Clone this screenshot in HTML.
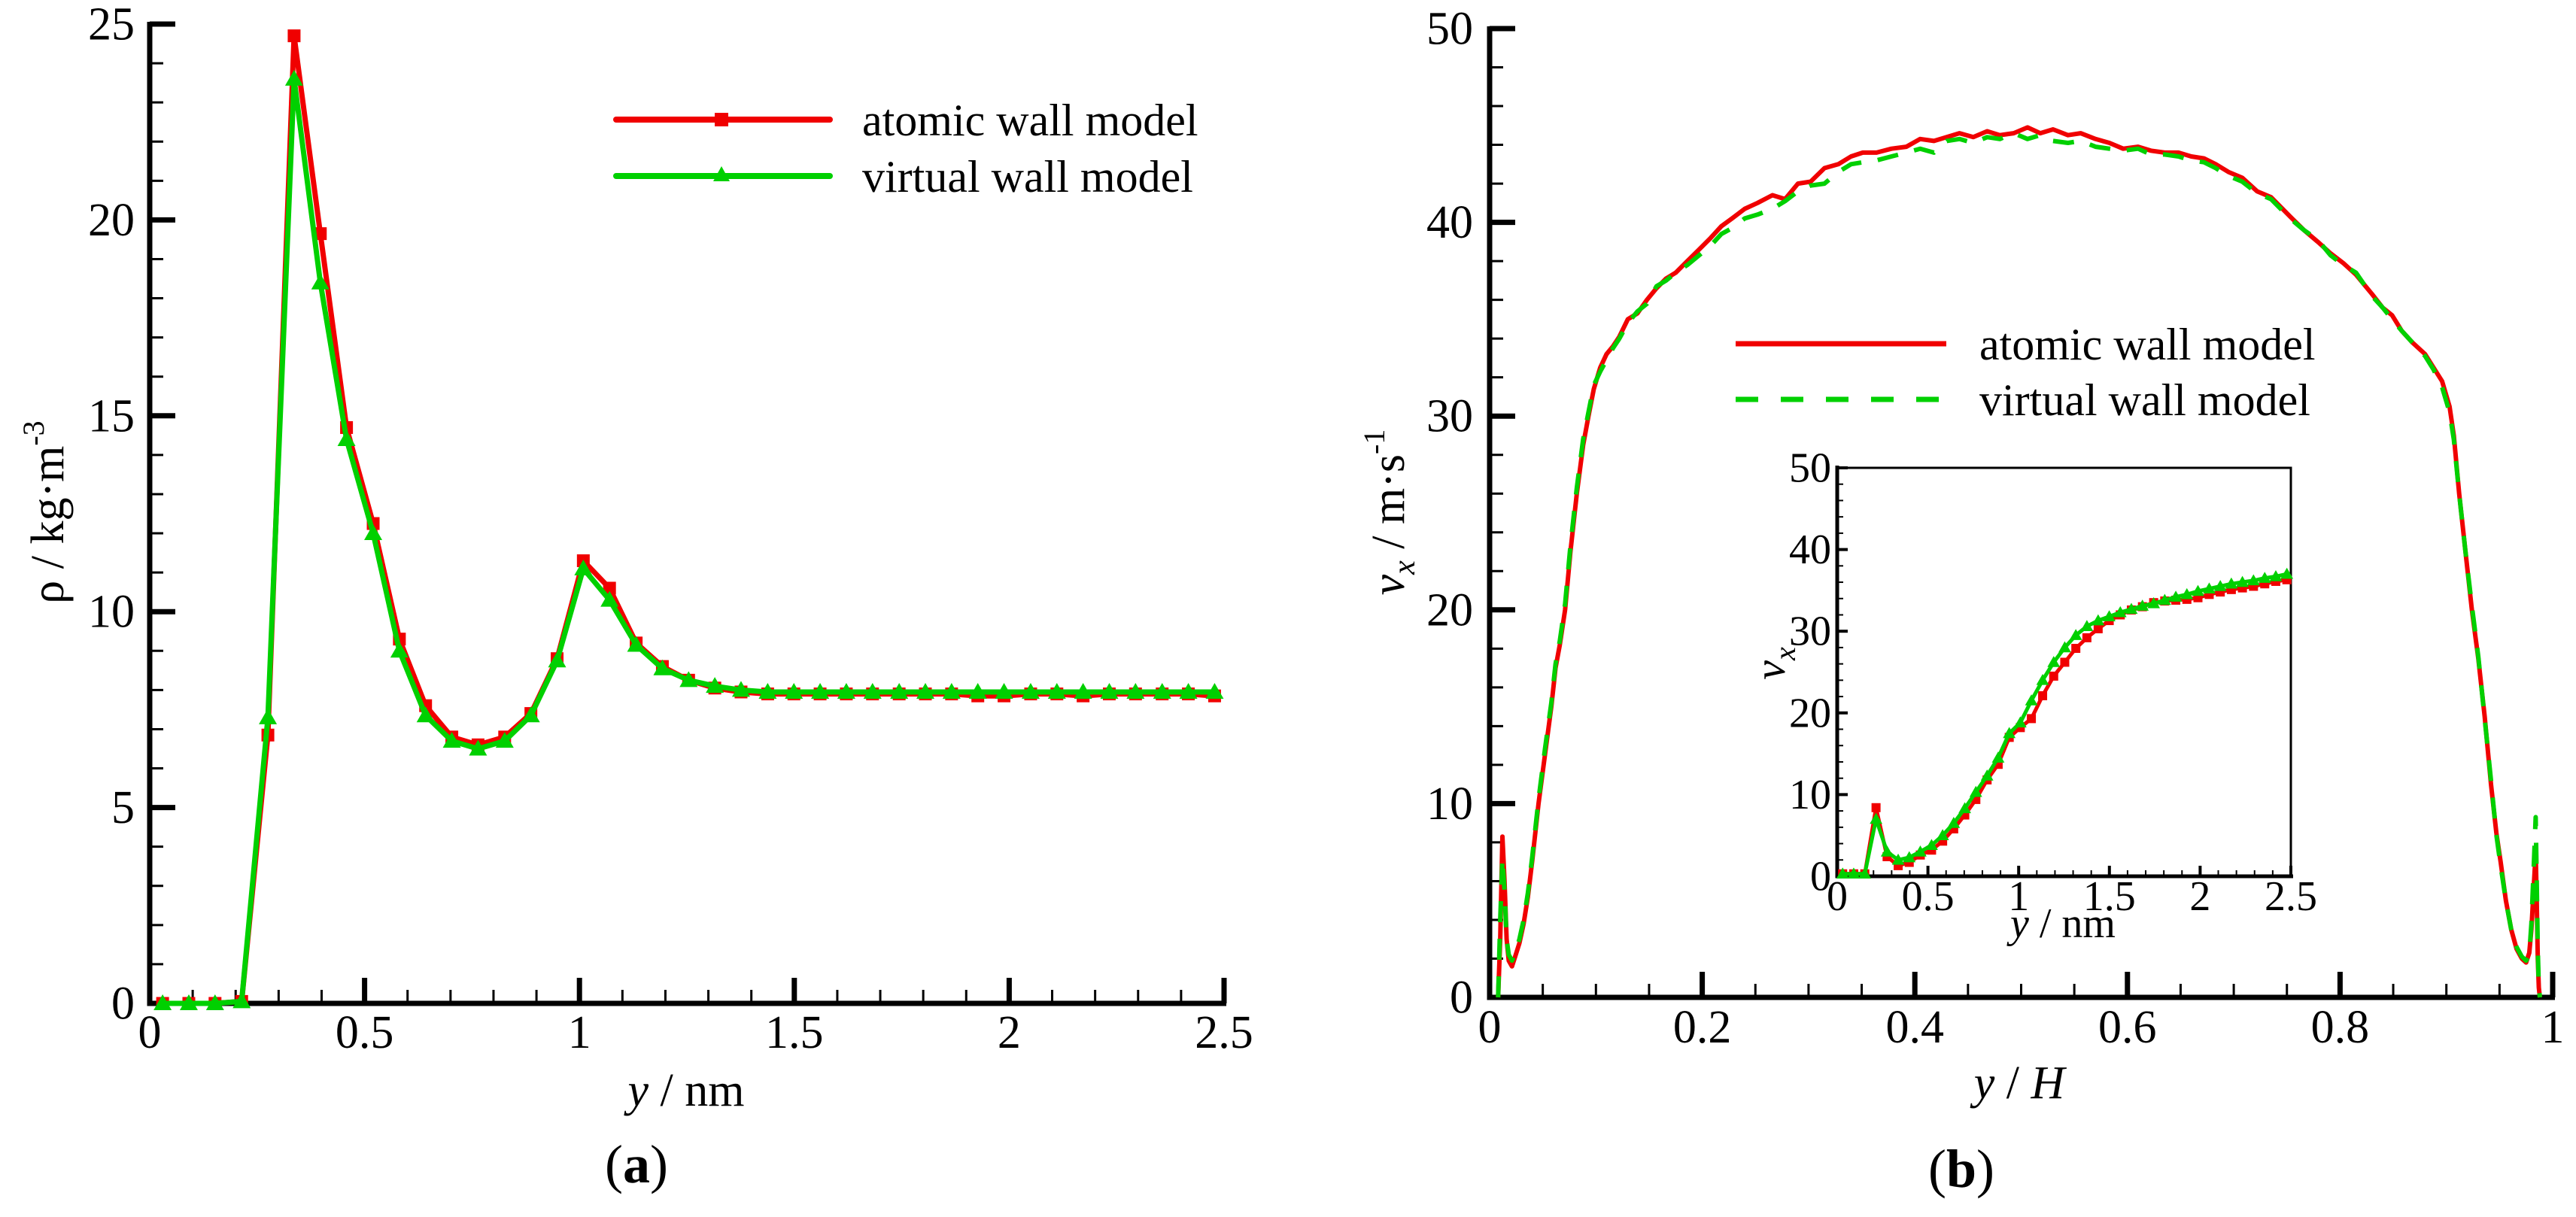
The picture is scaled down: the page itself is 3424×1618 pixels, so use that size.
<!DOCTYPE html>
<html><head><meta charset="utf-8"><style>
html,body{margin:0;padding:0;background:#fff;}
svg{display:block;font-family:"Liberation Serif",serif;}
svg text{font-family:"Liberation Serif","Times New Roman",serif;}
</style></head><body>
<svg id="fig" width="3424" height="1618" viewBox="0 0 3424 1618" xmlns="http://www.w3.org/2000/svg" font-family="Liberation Serif, serif">
<g id="pa"></g>
<g id="pb"></g>
<g id="pc"></g>
<text font-family="Liberation Serif, serif" x="912" y="1470" font-size="62" text-anchor="middle"><tspan font-style="italic">y</tspan> / nm</text>
<text font-family="Liberation Serif, serif" transform="translate(84,681) rotate(-90)" font-size="62" text-anchor="middle">ρ / kg·m<tspan font-size="40" dy="-26">-3</tspan></text>
<text font-family="Liberation Serif, serif" x="846" y="1572" font-size="72" text-anchor="middle">(<tspan font-weight="bold">a</tspan>)</text>
<text font-family="Liberation Serif, serif" x="2684" y="1460" font-size="62" text-anchor="middle"><tspan font-style="italic">y</tspan> / <tspan font-style="italic">H</tspan></text>
<text font-family="Liberation Serif, serif" transform="translate(1866,681) rotate(-90)" font-size="62" text-anchor="middle"><tspan font-style="italic">v</tspan><tspan font-style="italic" font-size="42" dy="14">x</tspan><tspan dy="-14"> / m·s</tspan><tspan font-size="40" dy="-26">-1</tspan></text>
<text font-family="Liberation Serif, serif" x="2607" y="1578" font-size="72" text-anchor="middle">(<tspan font-weight="bold">b</tspan>)</text>
<text font-family="Liberation Serif, serif" x="2742" y="1246" font-size="56" text-anchor="middle"><tspan font-style="italic">y</tspan> / nm</text>
<text font-family="Liberation Serif, serif" transform="translate(2372,882) rotate(-90)" font-size="58" text-anchor="middle" font-style="italic">v<tspan font-size="40" dy="14">x</tspan></text>
<g>
<line x1="819" y1="159" x2="1103" y2="159" stroke="#f00000" stroke-width="8" stroke-linecap="round"/>
<rect x="950" y="150" width="18" height="18" fill="#f00000"/>
<text font-family="Liberation Serif, serif" x="1146" y="180" font-size="60">atomic wall model</text>
<line x1="819" y1="234" x2="1103" y2="234" stroke="#00d000" stroke-width="8" stroke-linecap="round"/>
<polygon points="959,221 970,241 948,241" fill="#00d000"/>
<text font-family="Liberation Serif, serif" x="1146" y="255" font-size="60">virtual wall model</text>
</g>
<g>
<line x1="2307" y1="457" x2="2587" y2="457" stroke="#f00000" stroke-width="7"/>
<text font-family="Liberation Serif, serif" x="2631" y="478" font-size="60">atomic wall model</text>
<line x1="2307" y1="531" x2="2587" y2="531" stroke="#00d000" stroke-width="7" stroke-dasharray="30,30"/>
<text font-family="Liberation Serif, serif" x="2631" y="552" font-size="60">virtual wall model</text>
</g>
</svg>
<script>
// ---- Panel (a) data ----
const densX = [0.03,0.091,0.152,0.214,0.275,0.336,0.397,0.458,0.52,0.581,0.642,0.703,0.764,0.826,0.887,0.948,1.009,1.07,1.132,1.193,1.254,1.315,1.376,1.438,1.499,1.56,1.621,1.682,1.744,1.805,1.866,1.927,1.988,2.05,2.111,2.172,2.233,2.294,2.356,2.417,2.478];
const densAtomic = [0,0,0,0.05,6.85,24.7,19.65,14.7,12.25,9.3,7.6,6.8,6.6,6.8,7.4,8.8,11.3,10.6,9.2,8.6,8.25,8.05,7.95,7.9,7.9,7.9,7.9,7.9,7.9,7.9,7.9,7.85,7.85,7.9,7.9,7.85,7.9,7.9,7.9,7.9,7.85];
const densVirtual = [0,0,0,0.05,7.3,23.6,18.4,14.4,12.0,9.0,7.35,6.7,6.5,6.7,7.35,8.75,11.1,10.3,9.15,8.55,8.25,8.1,8.0,7.95,7.95,7.95,7.95,7.95,7.95,7.95,7.95,7.95,7.95,7.95,7.95,7.95,7.95,7.95,7.95,7.95,7.95];
const aXTicks = ["0","0.5","1","1.5","2","2.5"];
const aYTicks = ["0","5","10","15","20","25"];
// ---- Panel (b) data ----
const velX = [0.008,0.010,0.012,0.014,0.016,0.018,0.021,0.024,0.028,0.032,0.036,0.040,0.046,0.052,0.058,0.062,0.066,0.071,0.076,0.082,0.088,0.093,0.098,0.104,0.110,0.116,0.122,0.130,0.139,0.148,0.157,0.166,0.175,0.186,0.197,0.208,0.218,0.228,0.240,0.252,0.266,0.278,0.290,0.302,0.315,0.328,0.340,0.351,0.364,0.378,0.392,0.405,0.418,0.430,0.442,0.455,0.468,0.480,0.493,0.506,0.518,0.530,0.544,0.556,0.570,0.583,0.596,0.610,0.622,0.635,0.648,0.660,0.672,0.683,0.695,0.708,0.722,0.735,0.753,0.766,0.779,0.791,0.803,0.815,0.830,0.840,0.849,0.858,0.868,0.880,0.888,0.896,0.903,0.907,0.912,0.918,0.924,0.930,0.936,0.942,0.947,0.951,0.956,0.961,0.966,0.971,0.975,0.978,0.980,0.982,0.984,0.985,0.986,0.987,0.988];
const velAtomic = [0,3,8.3,6,3,1.9,1.6,2.1,2.8,3.8,5.2,7,10,12.5,15,17,18.2,20,23,26,28.5,30,31.4,32.5,33.2,33.6,34.1,35,35.3,36,36.6,37.1,37.4,38,38.6,39.2,39.8,40.2,40.7,41,41.4,41.2,42,42.1,42.8,43,43.4,43.6,43.6,43.8,43.9,44.3,44.2,44.4,44.6,44.4,44.7,44.5,44.6,44.9,44.6,44.8,44.5,44.6,44.3,44.1,43.8,43.9,43.7,43.6,43.6,43.4,43.3,43,42.6,42.3,41.6,41.3,40.3,39.6,39,38.4,37.9,37.3,36.3,35.6,35.2,34.4,33.8,33.2,32.5,31.8,30.5,29,26,23,20,17.5,14.5,11,8.5,7,5,3.5,2.5,2,1.8,2.3,3.5,5.5,7.5,5,2,0.5,0];
const velVirtual = [0,4,7.2,5.5,3,2.2,1.9,2.3,3,4,5.4,7.2,10.2,12.8,15.2,17.2,18.4,20.3,23.3,26.3,28.8,30.2,31.6,32.3,32.9,33.5,34,34.8,35.4,35.8,36.7,37,37.4,37.8,38.3,38.8,39.4,39.7,40.2,40.4,40.7,41.1,41.6,41.9,42,42.6,43,43.1,43.2,43.4,43.6,43.8,43.6,44.2,44.3,44.1,44.4,44.3,44.6,44.3,44.5,44.2,44.1,44.2,43.9,43.8,43.7,43.8,43.5,43.5,43.4,43.2,43.1,42.8,42.4,42.1,41.5,41.2,40.2,39.6,39.1,38.3,37.8,37.4,36.2,35.6,35,34.4,33.8,33.1,32.4,31.5,30.2,28.8,26,23,20.2,17.6,14.4,11.2,8.4,6.8,5,3.5,2.6,2.1,1.9,2.2,3.8,6.5,9.3,6,2.5,0.5,0];
const bXTicks = ["0","0.2","0.4","0.6","0.8","1"];
const bYTicks = ["0","10","20","30","40","50"];
// ---- Inset data ----
const insX = densX;
const insAtomic = [0.3,0.3,0.3,8.4,2.4,1.3,1.7,2.6,3.2,4.3,5.8,7.5,9.4,11.8,13.7,17,18.2,19.3,22.1,24.5,26.2,27.9,29.2,30.3,31.3,32,32.6,33,33.5,33.7,33.8,33.9,34.1,34.5,34.8,35.1,35.3,35.5,35.8,36.1,36.3];
const insVirtual = [0.3,0.3,0.3,7.0,3.0,2.0,2.3,3.0,3.8,5.0,6.5,8.3,10.3,12.3,14.5,17.5,18.8,21.5,24.0,26.2,28.0,29.5,30.6,31.3,31.8,32.3,32.7,33.1,33.4,33.8,34.2,34.5,34.9,35.2,35.5,35.8,36.0,36.2,36.5,36.7,37.0];
const insXTicks = ["0","0.5","1","1.5","2","2.5"];
const insYTicks = ["0","10","20","30","40","50"];

const NS = "http://www.w3.org/2000/svg";
function mk(parent, tag, attrs){ const e=document.createElementNS(NS,tag); for(const k in attrs) e.setAttribute(k,attrs[k]); parent.appendChild(e); return e; }
function scale(d0,d1,r0,r1){ return v => r0+(v-d0)/(d1-d0)*(r1-r0); }
const RED="#f00000", GREEN="#00d000";
const SERIF="Liberation Serif, serif";

function axes(g, o){
  const sx=o.sx, sy=o.sy;
  for(let v=o.xmin; v<=o.xmax+1e-9; v+=o.xminor){
    const major = Math.abs(v/o.xmajor-Math.round(v/o.xmajor))<1e-6;
    const t=mk(g,'line',{x1:sx(v),x2:sx(v),y1:sy(o.ymin),y2:sy(o.ymin)-(major?o.ml:o.nl),stroke:'#000','stroke-width':major?o.mw:o.nw});
    
    
  }
  for(let v=o.ymin; v<=o.ymax+1e-9; v+=o.yminor){
    const major = Math.abs(v/o.ymajor-Math.round(v/o.ymajor))<1e-6;
    const t=mk(g,'line',{x1:sx(o.xmin),x2:sx(o.xmin)+(major?o.ml:o.nl),y1:sy(v),y2:sy(v),stroke:'#000','stroke-width':major?o.mw:o.nw});
    
    
  }
  o.xticks.forEach((s,i)=>{
    const v=o.xmin+i*o.xmajor;
    const t=mk(g,'text',{x:sx(v),y:o.xly,'font-size':o.fs,'text-anchor':'middle','font-family':SERIF}); t.textContent=s;
    
    
  });
  o.yticks.forEach((s,i)=>{
    const v=o.ymin+i*o.ymajor;
    const t=mk(g,'text',{x:sx(o.xmin)+o.ylx,y:sy(v)+o.fs*0.33,'font-size':o.fs,'text-anchor':'end','font-family':SERIF}); t.textContent=s;
    
    
  });
  const a=mk(g,'path',{d:`M${sx(o.xmin)},${sy(o.ymax)-3}L${sx(o.xmin)},${sy(o.ymin)}L${sx(o.xmax)+3},${sy(o.ymin)}`,fill:'none',stroke:'#000','stroke-width':o.aw});
  
  
}
function line(g, xs, ys, sx, sy, color, w, dash, name){
  const d = xs.map((x,i)=>(i?'L':'M')+sx(x).toFixed(1)+','+sy(ys[i]).toFixed(1)).join('');
  const p=mk(g,'path',{d:d,fill:'none',stroke:color,'stroke-width':w,'stroke-linejoin':'round'});
  if(dash) p.setAttribute('stroke-dasharray',dash);
  
  
}
function squares(g, xs, ys, sx, sy, s){
  xs.forEach((x,i)=>{ const r=mk(g,'rect',{x:sx(x)-s/2,y:sy(ys[i])-s/2,width:s,height:s,fill:RED});
    
     });
}
function tris(g, xs, ys, sx, sy, s){
  xs.forEach((x,i)=>{ const cx=sx(x), cy=sy(ys[i]);
    const p=mk(g,'polygon',{points:`${cx},${cy-s*0.6} ${cx+s*0.6},${cy+s*0.45} ${cx-s*0.6},${cy+s*0.45}`,fill:GREEN});
    
     });
}

{
  const g=document.getElementById('pa');
  const sx=scale(0,2.5,199,1627), sy=scale(0,25,1334,32);
  axes(g,{sx,sy,xmin:0,xmax:2.5,xmajor:0.5,xminor:0.1,ymin:0,ymax:25,ymajor:5,yminor:1,ml:34,nl:18,mw:7,nw:3,aw:7,xticks:aXTicks,yticks:aYTicks,fs:62,xly:1393,ylx:-20});
  line(g,densX,densAtomic,sx,sy,RED,7,null,'atomic-line');
  squares(g,densX,densAtomic,sx,sy,17);
  line(g,densX,densVirtual,sx,sy,GREEN,7,null,'virtual-line');
  tris(g,densX,densVirtual,sx,sy,20);
}
{
  const g=document.getElementById('pb');
  const sx=scale(0,1,1980,3393), sy=scale(0,50,1326,38);
  axes(g,{sx,sy,xmin:0,xmax:1,xmajor:0.2,xminor:0.05,ymin:0,ymax:50,ymajor:10,yminor:2,ml:34,nl:18,mw:7,nw:3,aw:7,xticks:bXTicks,yticks:bYTicks,fs:62,xly:1386,ylx:-22});
  line(g,velX,velAtomic,sx,sy,RED,6,null,'atomic-line');
  line(g,velX,velVirtual,sx,sy,GREEN,6,'28,22','virtual-line');
}
{
  const g=document.getElementById('pc');
  const sx=scale(0,2.5,2442,3045), sy=scale(0,50,1165,622);
  const f=mk(g,'rect',{x:2442,y:622,width:603,height:543,fill:'#fff',stroke:'#000','stroke-width':3});
  
  
  axes(g,{sx,sy,xmin:0,xmax:2.5,xmajor:0.5,xminor:0.1,ymin:0,ymax:50,ymajor:10,yminor:2,ml:14,nl:8,mw:4,nw:2,aw:5,xticks:insXTicks,yticks:insYTicks,fs:56,xly:1210,ylx:-8});
  line(g,insX,insAtomic,sx,sy,RED,5,null,'inset-atomic-line');
  squares(g,insX,insAtomic,sx,sy,12);
  line(g,insX,insVirtual,sx,sy,GREEN,5,null,'inset-virtual-line');
  tris(g,insX,insVirtual,sx,sy,14);
}
</script>
</body></html>
